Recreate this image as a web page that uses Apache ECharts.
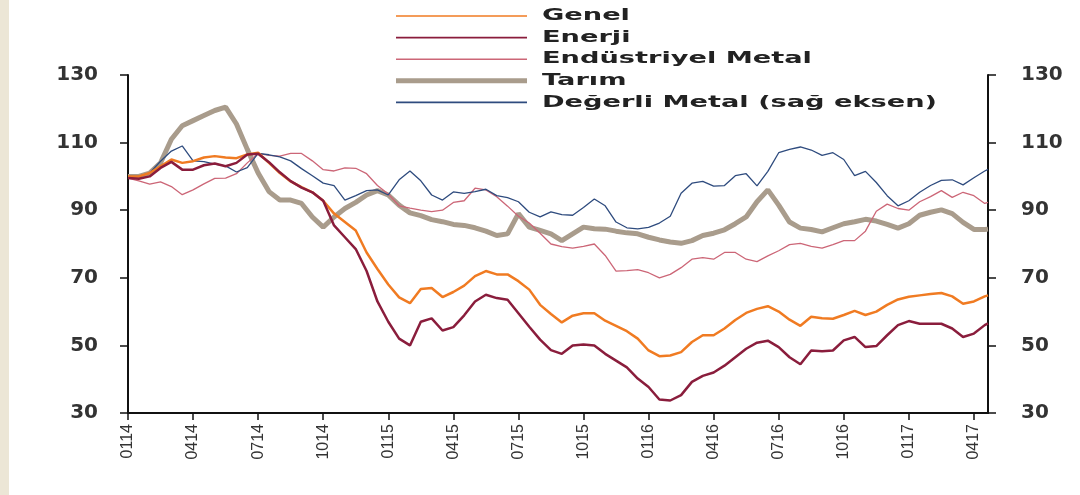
<!DOCTYPE html>
<html><head><meta charset="utf-8">
<script src="https://cdn.jsdelivr.net/npm/echarts@6/dist/echarts.min.js"></script>
<style>html,body{margin:0;padding:0;background:#fff}#c{width:1080px;height:495px}</style>
</head><body><div id="c"></div>
<script>
// x positions: months since Jan 2014
const months = [0,0.5,1,1.5,2,2.5,3,3.5,4,4.5,5,5.5,6,6.5,7,7.5,8,8.5,9,9.5,
10,10.5,11,11.5,12,12.5,13,13.5,14,14.5,15,15.5,16,16.5,17,17.5,18,18.5,19,19.5,
20,20.5,21,21.5,22,22.5,23,23.5,24,24.5,25,25.5,26,26.5,27,27.5,28,28.5,29,29.5,
30,30.5,31,31.5,32,32.5,33,33.5,34,34.5,35,35.5,36,36.5,37,37.5,38,38.5,39,39.5,39.65];
const tickMonths = [0,3,6,9,12,15,18,21,24,27,30,33,36,39];
const tickLabels = ['0114','0414','0714','1014','0115','0415','0715','1015','0116','0416','0716','1016','0117','0417'];

const genel = [100,100,101,103,105,104,104.5,105.6,106,105.6,
105.4,106.5,107,104,101,98.5,96.8,95.3,92.8,89,
86.5,84,77.5,72.6,68,64.2,62.5,66.7,67,64.3,
65.8,67.7,70.5,72,71,71,69,66.5,62,59.3,
56.8,58.8,59.5,59.5,57.3,55.8,54.2,52,48.5,46.8,
47,48,51,53,53,55,57.5,59.6,60.8,61.6,
60,57.6,55.8,58.5,58,57.9,59,60.2,59,60,
62,63.6,64.4,64.8,65.2,65.5,64.5,62.3,63,64.5,
64.8];
const enerji = [99.5,99.3,100,102.5,104.3,102,102,103.3,103.8,103,
104,106.5,106.7,104.2,101.2,98.6,96.7,95.3,92.8,85.5,
82,78.5,72,63,57,52,50,57,58,54.4,
55.4,58.9,63,65,64,63.5,59.5,55.5,51.7,48.6,
47.5,50,50.3,50,47.5,45.5,43.5,40.2,37.7,34,
33.7,35.3,39.2,41,42,44,46.5,49,50.8,51.4,
49.5,46.5,44.4,48.5,48.3,48.5,51.5,52.5,49.5,49.8,
53,56,57.2,56.4,56.4,56.4,55,52.5,53.5,56,
56.5];
const endustriyel = [99.5,98.7,97.7,98.4,97,94.6,96,97.8,99.4,99.5,
100.8,104,106.8,106.2,106,106.8,106.8,104.6,102,101.6,
102.5,102.4,100.8,97.3,94.8,91.3,90.6,90,89.6,90,
92.3,92.8,96.5,96,94,91.2,88.2,86.2,83.2,80,
79.2,78.8,79.3,80,76.6,72,72.1,72.4,71.5,70,
71,73,75.5,76,75.5,77.5,77.5,75.5,74.8,76.5,
78,79.8,80.2,79.3,78.8,79.8,81,81,83.8,89.7,
91.8,90.5,90,92.5,94,95.8,93.8,95.3,94.3,92,
92.3];
const tarim = [100,100,101,104,111,115,116.5,118,119.5,120.5,
115.5,108,101,95.5,93,93,92,88,85,88,
90.5,92.3,94.5,95.8,94.5,91.5,89.2,88.4,87.2,86.6,
85.8,85.5,84.8,83.8,82.5,83,89,85,84,83,
81,83,85,84.5,84.4,83.8,83.3,83,82,81.2,
80.6,80.2,81,82.5,83.2,84.2,86,88,92.5,96,
91.5,86.5,84.7,84.3,83.6,84.8,86,86.6,87.3,86.8,
85.8,84.7,86,88.5,89.4,90.1,89,86.4,84.3,84.3,
84.4];
const degerli = [100,100,101,104.5,107.5,109,104.6,104.4,103.6,103.1,
101.3,102.6,106.8,106.4,105.8,104.6,102.3,100.2,98,97.3,
93,94.3,95.8,96,94.5,99,101.6,98.7,94.5,93,
95.4,95,95.5,96.2,94.3,93.7,92.5,89.4,88,89.5,
88.7,88.5,90.8,93.3,91.3,86.5,84.8,84.5,84.9,86.2,
88.2,95,98,98.5,97.1,97.3,100.2,100.8,97.2,101.5,
107,108,108.7,107.8,106.2,107,105,100.2,101.5,98.2,
94.3,91.3,92.8,95.3,97.3,98.8,99,97.5,99.6,101.6,
102.1];

const names = ['Genel','Enerji','Endüstriyel Metal','Tarım','Değerli Metal (sağ eksen)'];
const colors = ['#F07B22','#8A1D3C','#CC6677','#A99C8C','#2E4B7E'];
const widths = [2.5,2.5,1.3,5,1.3];

function pairs(arr){ return arr.map((v,i)=>[months[i], v]); }

// legend drawn as graphic (lines + horizontally stretched text, as in the source)
const legendGraphic = [];
names.forEach((n,i)=>{
  const y = 16 + i*21.6;
  legendGraphic.push({type:'line', silent:true, shape:{x1:396, y1:y, x2:527, y2:y},
    style:{stroke:colors[i], lineWidth: i===3 ? 5 : 1.6}});
  legendGraphic.push({type:'text', silent:true, x:542, y:y, scaleX:1.7,
    style:{text:n, font:'bold 16px "DejaVu Sans", sans-serif', fill:'#222', textAlign:'left', textVerticalAlign:'middle'}});
});

const chart = echarts.init(document.getElementById('c'));
function yAxisCfg(pos, margin){
  return {
    type:'value', position:pos, min:30, max:130, interval:20,
    axisLine:{show:true, lineStyle:{color:'#111', width:2}},
    axisTick:{show:true, inside:false, length:8, lineStyle:{color:'#111', width:1.5}},
    splitLine:{show:false},
    axisLabel:{fontFamily:'DejaVu Sans', fontWeight:'bold', fontSize:20, color:'#333', margin:margin}
  };
}
chart.setOption({
  animation:false,
  backgroundColor:'#fff',
  graphic:[{type:'rect', left:0, top:0, silent:true, shape:{width:9, height:495}, style:{fill:'#ECE6D6'}}].concat(legendGraphic),
  grid:{left:128, right:92, top:75, bottom:82, containLabel:false},
  xAxis:{
    type:'value', min:0, max:39.65,
    axisLine:{show:true, onZero:false, lineStyle:{color:'#111', width:2}},
    axisTick:{show:true, inside:false, length:7, customValues:tickMonths, lineStyle:{color:'#111', width:1.5}},
    splitLine:{show:false},
    axisLabel:{customValues:tickMonths, rotate:90, margin:11, fontFamily:'Liberation Sans', fontSize:16, color:'#333',
      formatter:function(v){ const i = tickMonths.indexOf(v); return i>=0 ? tickLabels[i] : ''; }}
  },
  yAxis:[ yAxisCfg('left', 30), yAxisCfg('right', 33) ],
  series:[
    {name:names[3], type:'line', data:pairs(tarim), symbol:'none', z:1, lineStyle:{color:colors[3], width:widths[3]}},
    {name:names[2], type:'line', data:pairs(endustriyel), symbol:'none', z:2, lineStyle:{color:colors[2], width:widths[2]}},
    {name:names[4], type:'line', yAxisIndex:1, data:pairs(degerli), symbol:'none', z:3, lineStyle:{color:colors[4], width:widths[4]}},
    {name:names[0], type:'line', data:pairs(genel), symbol:'none', z:4, lineStyle:{color:colors[0], width:widths[0]}},
    {name:names[1], type:'line', data:pairs(enerji), symbol:'none', z:5, lineStyle:{color:colors[1], width:widths[1]}}
  ]
});
</script></body></html>
